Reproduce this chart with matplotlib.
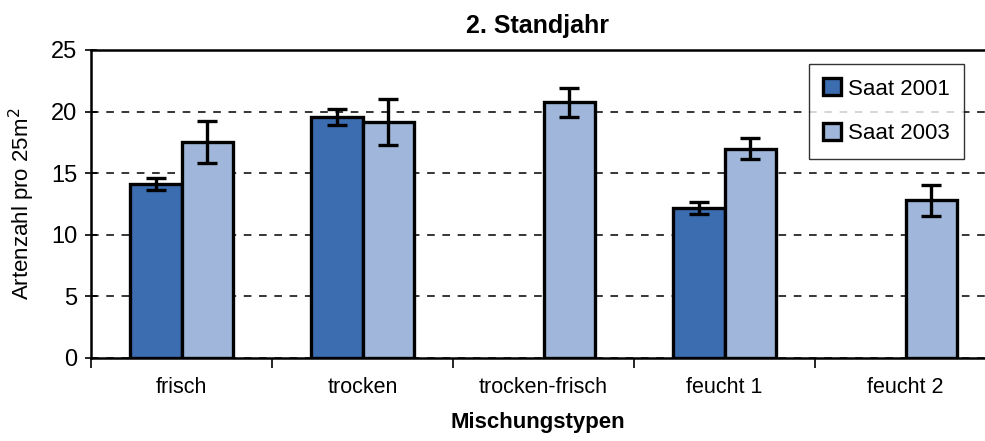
import numpy as np
import matplotlib
matplotlib.use("Agg")
import matplotlib.pyplot as plt

plt.rcParams['font.family'] = ['Liberation Sans', 'DejaVu Sans']

categories = ["frisch", "trocken", "trocken-frisch", "feucht 1", "feucht 2"]
saat2001 = [14.1, 19.6, np.nan, 12.15, np.nan]
err2001 = [0.5, 0.65, np.nan, 0.5, np.nan]
saat2003 = [17.5, 19.15, 20.75, 17.0, 12.8]
err2003 = [1.7, 1.9, 1.2, 0.85, 1.25]
yticks = [0, 5, 10, 15, 20, 25]

dark = "#3D6DB1"
light = "#A0B7DB"

fig = plt.figure(figsize=(9.85, 4.41), dpi=100)
ax = fig.add_axes([91/985, 83/441, 894/985, 308/441])

x = np.arange(len(categories))
w = 0.287
ax.bar(x - w/2, saat2001, w, color=dark, edgecolor="black", linewidth=2.4, label="Saat 2001", zorder=2)
ax.bar(x + w/2, saat2003, w, color=light, edgecolor="black", linewidth=2.4, label="Saat 2003", zorder=2)
ax.errorbar(x - w/2, saat2001, yerr=err2001, fmt="none", ecolor="black", elinewidth=2.4, capsize=7, capthick=2.4, zorder=3)
ax.errorbar(x + w/2, saat2003, yerr=err2003, fmt="none", ecolor="black", elinewidth=2.4, capsize=7, capthick=2.4, zorder=3)

ax.set_ylim(0, 25)
ax.set_xlim(-0.5, -0.5 + 894/181)
ax.set_yticks(yticks)
ax.set_yticklabels([str(t) for t in yticks], fontsize=17)
ax.yaxis.grid(True, linestyle=(0, (5, 5)), color="black", linewidth=1.1, zorder=0)
ax.set_axisbelow(True)
ax.tick_params(axis="y", direction="inout", length=8, width=1.2, pad=6)

ax.set_xticks(x)
ax.set_xticklabels(categories, fontsize=15.5)
ax.tick_params(axis="x", length=0, pad=14)
ax.set_xticks(np.arange(len(categories)) - 0.5, minor=True)
ax.tick_params(axis="x", which="minor", length=7, width=1.2, direction="out")

for s in ["left", "bottom", "top"]:
    ax.spines[s].set_linewidth(1.8)
ax.spines["right"].set_visible(False)

ax.set_title("2. Standjahr", fontsize=18, fontweight="bold", pad=12)
ax.set_xlabel("Mischungstypen", fontsize=16, fontweight="bold", labelpad=10)
ax.set_ylabel("Artenzahl pro 25m$^2$", fontsize=16, labelpad=10)

leg = ax.legend(loc="upper right", fontsize=16, frameon=True, fancybox=False, edgecolor="black",
                handlelength=0.8, handleheight=0.8, handletextpad=0.3, labelspacing=1.05,
                borderpad=0.65, borderaxespad=0)
leg.set_bbox_to_anchor((964/985, 1 - 64/441), transform=fig.transFigure)
leg.get_frame().set_linewidth(1.0)

fig.savefig("out.png", dpi=100)
